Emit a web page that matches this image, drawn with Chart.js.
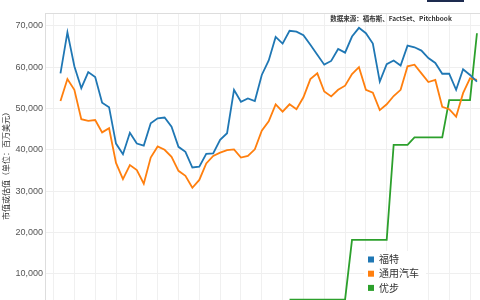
<!DOCTYPE html>
<html>
<head>
<meta charset="utf-8">
<script src="https://cdn.jsdelivr.net/npm/chart.js@4/dist/chart.umd.min.js"></script>
<style>
  html, body { margin: 0; padding: 0; background: #fff; overflow: hidden; width: 480px; height: 300px; }
  #wrap { position: relative; width: 500px; height: 330px; }
  #bar { position: absolute; left: 427px; top: 0; width: 37px; height: 2px; background: #1d2b4f; }
</style>
</head>
<body>
<div id="wrap">
  <canvas id="chart" width="500" height="330"></canvas>
  <div id="bar"></div>
</div>
<script>
// monthly values, Nov 2010 .. Nov 2015 (x axis labels are cut off in the picture)
const months = [
  '2010-11','2010-12',
  '2011-01','2011-02','2011-03','2011-04','2011-05','2011-06','2011-07','2011-08','2011-09','2011-10','2011-11','2011-12',
  '2012-01','2012-02','2012-03','2012-04','2012-05','2012-06','2012-07','2012-08','2012-09','2012-10','2012-11','2012-12',
  '2013-01','2013-02','2013-03','2013-04','2013-05','2013-06','2013-07','2013-08','2013-09','2013-10','2013-11','2013-12',
  '2014-01','2014-02','2014-03','2014-04','2014-05','2014-06','2014-07','2014-08','2014-09','2014-10','2014-11','2014-12',
  '2015-01','2015-02','2015-03','2015-04','2015-05','2015-06','2015-07','2015-08','2015-09','2015-10','2015-11'
];
const ford = [
  58500, 68400,
  60200, 54900, 58800, 57600, 51400, 50300, 41500, 38900, 44100, 41500, 41000, 46400,
  47600, 47800, 45600, 40700, 39500, 35700, 35900, 39000, 39100, 42400, 44000, 54500,
  51600, 52400, 51800, 58100, 61600, 67300, 65700, 68800, 68600, 67700, 65400, 63000,
  60600, 61500, 64400, 63500, 67400, 69500, 68200, 65700, 56500, 60700, 61600, 60400,
  65200, 64800, 64000, 62200, 61000, 58400, 58400, 54500, 59500, 58100, 56500
];
const gm = [
  51800, 57100,
  54500, 47400, 47000, 47200, 44200, 45200, 36800, 32900, 36300, 35100, 31800, 38100,
  40800, 40000, 38300, 34900, 33700, 30800, 32700, 36700, 38500, 39300, 39900, 40100,
  38100, 38500, 40100, 44600, 46900, 51000, 49200, 51000, 49800, 52700, 57100, 58500,
  54100, 52900, 54500, 55500, 58300, 60000, 54500, 53800, 49600, 51000, 53000, 54500,
  60200, 60600, 58500, 56400, 56900, 50400, 49800, 48000, 53700, 57300, 56900
];
const uber = [
  null, null,
  null, null, null, null, null, null, null, null, null, null, null, null,
  null, null, null, null, null, null, null, null, null, null, null, null,
  null, null, null, null, null, null, null, 3700, 3700, 3700, 3700, 3700,
  3700, 3700, 3700, 3700, 18200, 18200, 18200, 18200, 18200, 18200, 41200, 41200,
  41200, 43000, 43000, 43000, 43000, 43000, 52000, 52000, 52000, 52000, 68200
];
const yTicks = [0, 10000, 20000, 30000, 40000, 50000, 60000, 70000];
const seriesNames = ['福特', '通用汽车', '优步'];
const seriesColors = ['#1f77b4', '#ff7f0e', '#2ca02c'];
const yTitle = '市值或估值（单位：百万美元）';
const sourceNote = '数据来源：福布斯、FactSet、Pitchbook';

const series = [ford, gm, uber];
const datasets = series.map((vals, s) => ({
  label: seriesNames[s],
  data: vals.map((v, i) => ({ x: i, y: v })),
  borderColor: seriesColors[s],
  backgroundColor: seriesColors[s],
  borderWidth: 1.8,
  pointRadius: 0,
  tension: 0,
  fill: false,
  spanGaps: false
}));

// quarter grid lines (Oct, Jan, Apr, Jul)
const quarterLines = [];
for (let i = -1; i <= 63; i += 3) quarterLines.push(i);

const decor = {
  id: 'decor',
  afterDatasetsDraw(chart) {
    const ctx = chart.ctx;
    const a = chart.chartArea;
    ctx.save();
    ctx.strokeStyle = '#dddddd';
    ctx.lineWidth = 1;
    ctx.beginPath();
    ctx.moveTo(a.left, a.top + 0.5);
    ctx.lineTo(a.right, a.top + 0.5);
    ctx.stroke();

    ctx.font = 'bold 6.5px "Noto Sans CJK SC", sans-serif';
    ctx.fillStyle = '#333';
    ctx.textAlign = 'center';
    ctx.textBaseline = 'middle';
    ctx.fillText(sourceNote, 391, 18.5);

    // legend box
    ctx.fillStyle = '#fff';
    ctx.fillRect(364, 251, 62, 52);
    ctx.font = '10px "Noto Sans CJK SC", sans-serif';
    ctx.textAlign = 'left';
    chart.data.datasets.forEach((ds, k) => {
      const y = 259.5 + k * 14.2;
      ctx.fillStyle = ds.borderColor;
      ctx.fillRect(368, y - 3, 6, 6);
      ctx.fillStyle = '#333';
      ctx.fillText(ds.label, 379, y);
    });
    ctx.restore();
  }
};

new Chart(document.getElementById('chart'), {
  type: 'line',
  data: { datasets: datasets },
  options: {
    responsive: false,
    animation: false,
    devicePixelRatio: 1,
    layout: { padding: { top: 13, right: 5, bottom: 15, left: 0 } },
    plugins: { legend: { display: false }, tooltip: { enabled: false } },
    scales: {
      x: {
        type: 'linear',
        min: -2.23,
        max: 62.6,
        afterBuildTicks: (s) => { s.ticks = quarterLines.map(v => ({ value: v })); },
        afterFit: (s) => { s.height = 0; },
        ticks: { display: false },
        grid: { color: '#f0f0f0', lineWidth: 1, drawTicks: false },
        border: { display: false }
      },
      y: {
        min: 0,
        max: 73100,
        afterBuildTicks: (s) => { s.ticks = yTicks.map(v => ({ value: v })); },
        afterFit: (s) => { s.width = 45; },
        ticks: {
          color: '#555',
          padding: 2,
          font: { family: '"Liberation Sans", Arial, sans-serif', size: 9 },
          callback: (v) => v.toLocaleString('en-US')
        },
        grid: { color: '#efefef', lineWidth: 1, drawTicks: false },
        border: { display: true, color: '#dddddd', width: 1 },
        title: {
          display: true,
          text: yTitle,
          color: '#333',
          padding: { top: 1, bottom: 0 },
          font: { family: '"Noto Sans CJK SC", sans-serif', size: 8 }
        }
      }
    }
  },
  plugins: [decor]
});
</script>
</body>
</html>
